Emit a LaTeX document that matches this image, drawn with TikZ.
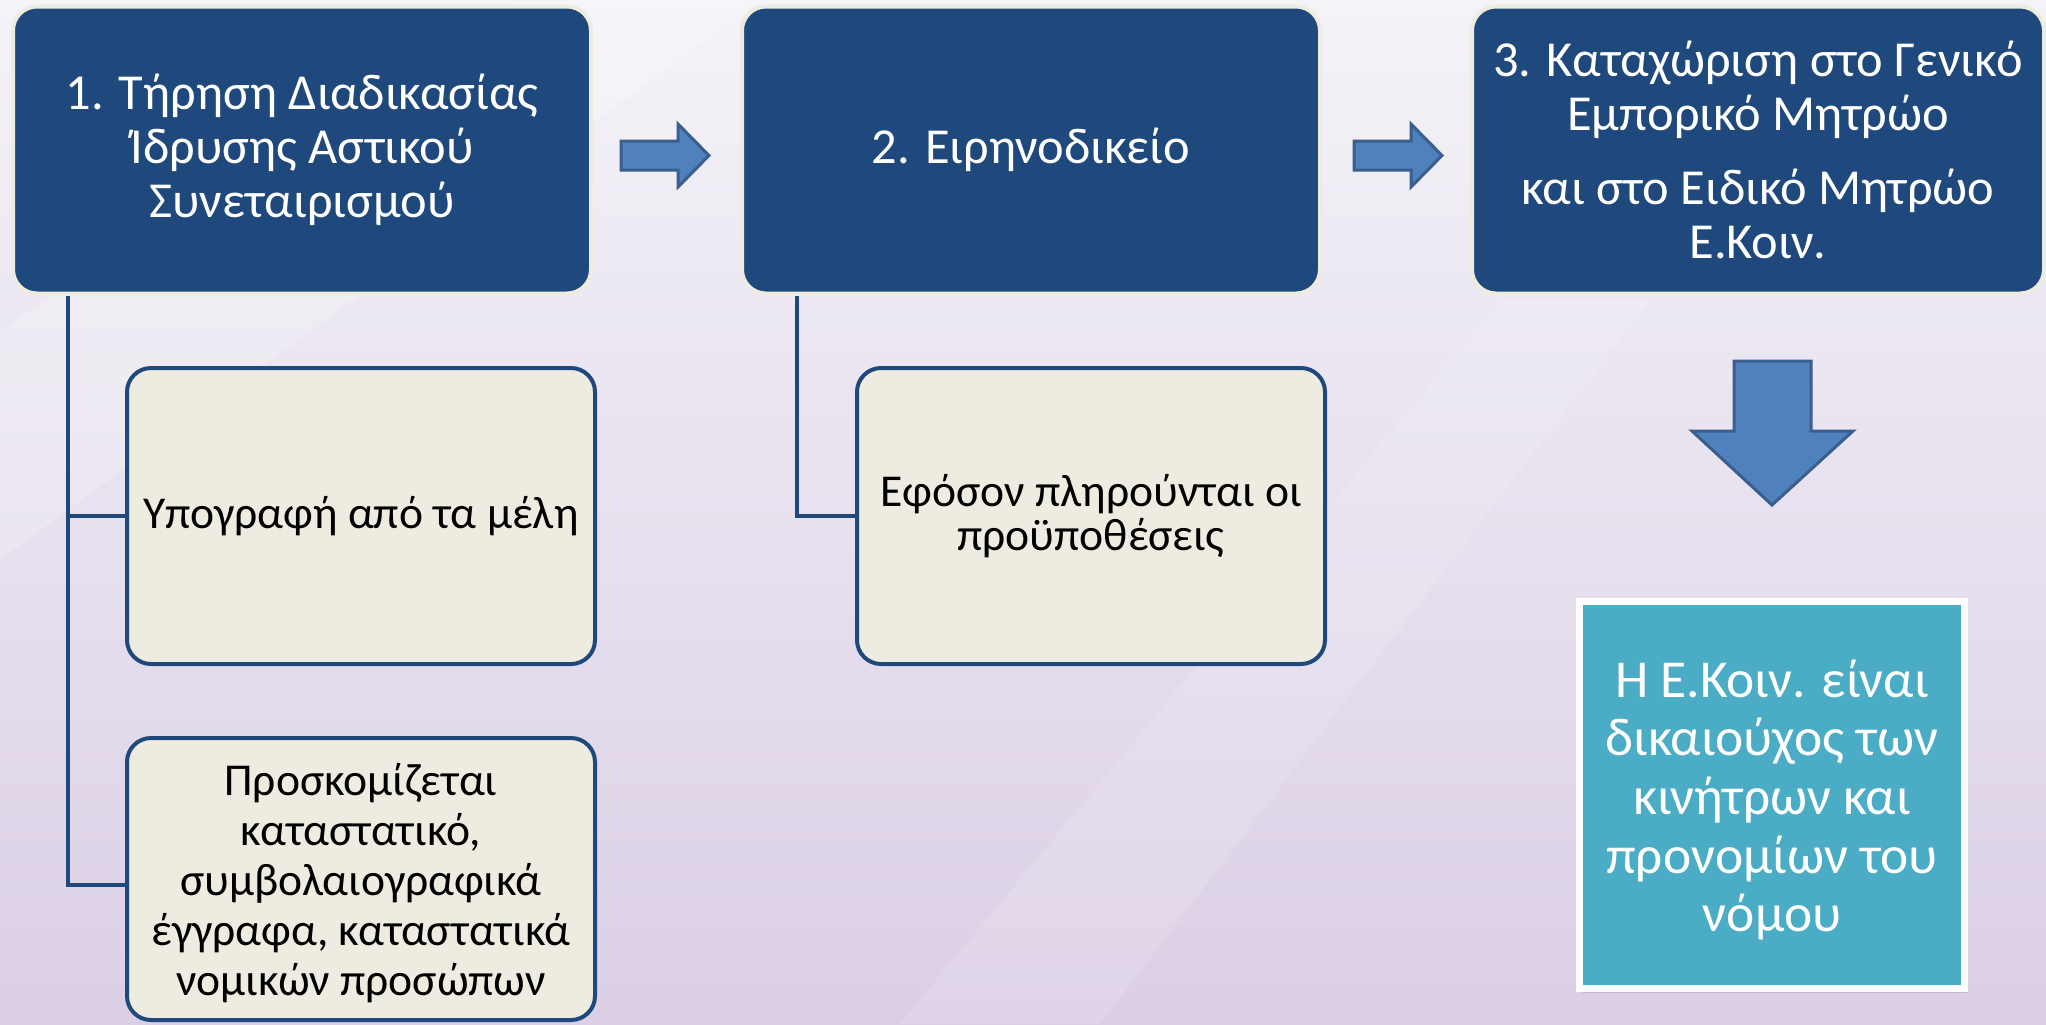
\documentclass[tikz,border=0pt]{standalone}
\usepackage{fontspec}
\setmainfont{Carlito}
\usetikzlibrary{shadows,calc}
\definecolor{navy}{HTML}{1F497D}
\definecolor{cream}{HTML}{EEECE1}
\definecolor{arrowfill}{HTML}{4F81BD}
\definecolor{arrowline}{HTML}{3A5F8E}
\definecolor{tealc}{HTML}{4BACC6}
\definecolor{bgtop}{HTML}{F4F3F8}
\definecolor{bgbot}{HTML}{DBCFE5}
\tikzset{
  mainbox/.style={draw=cream, line width=2pt, fill=navy, rounded corners=12pt,
    text=white, align=center, minimum width=289pt, minimum height=143.5pt,
    inner sep=0pt, font=\fontsize{25.2}{26.9}\selectfont},
  subbox/.style={draw=navy, line width=2pt, fill=cream, rounded corners=12pt,
    minimum width=234pt, inner sep=0pt},
  subtext/.style={text=black, align=center, inner sep=0pt, font=\fontsize{22.8}{25}\selectfont},
  tealbox/.style={fill=tealc, draw=white, line width=3.5pt, minimum width=192.5pt,
    minimum height=193.5pt, inner sep=0pt,
    drop shadow={opacity=0.25, shadow xshift=1pt, shadow yshift=-2pt}},
  tealtext/.style={text=white, align=center, inner sep=0pt,
    font=\fontsize{26.7}{29.3}\selectfont},
  conn/.style={draw=navy, line width=1.8pt},
  blockarrow/.style={fill=arrowfill, draw=arrowline, line width=1.5pt, line join=miter}
}
\begin{document}
\begin{tikzpicture}[x=0.5pt,y=-0.5pt]
\useasboundingbox (0,0) rectangle (2046,1024);
\shade[top color=bgtop, bottom color=bgbot] (0,0) rectangle (2046,1024);
\fill[white, opacity=0.2] (0,330) -- (520,0) -- (760,0) -- (0,560) -- cycle;
\fill[white, opacity=0.12] (900,1024) -- (1500,300) -- (1650,300) -- (1100,1024) -- cycle;

% main boxes
\node[mainbox] (b1) at (302,150) {1. Τήρηση Διαδικασίας\\Ίδρυσης Αστικού\\Συνεταιρισμού};
\node[mainbox] (b2) at (1031,150) {2. Ειρηνοδικείο};
\node[mainbox, minimum width=286pt] (b3) at (1758,150)
  {3. Καταχώριση στο Γενικό\\Εμπορικό Μητρώο\\[10.5pt]και στο Ειδικό Μητρώο\\Ε.Κοιν.};

% block arrows
\draw[blockarrow] (621,141) -- (678,141) -- (678,124) -- (709,155.5) -- (678,187) -- (678,170) -- (621,170) -- cycle;
\draw[blockarrow] (1354,141) -- (1411,141) -- (1411,124) -- (1442,155.5) -- (1411,187) -- (1411,170) -- (1354,170) -- cycle;
\draw[blockarrow] (1734,361) -- (1811,361) -- (1811,431) -- (1853,431) -- (1772,505) -- (1692,431) -- (1734,431) -- cycle;

% sub boxes
\node[subbox, minimum height=148pt] (s1a) at (361,516) {};
\node[subtext] (t1a) at (s1a) {Υπογραφή από τα μέλη};
\node[subbox, minimum height=141pt] (s1b) at (361,879) {};
\node[subtext] (t1b) at (361,883) {Προσκομίζεται\\καταστατικό,\\συμβολαιογραφικά\\έγγραφα, καταστατικά\\νομικών προσώπων};
\node[subbox, minimum height=148pt] (s2a) at (1091,516) {};
\node[subtext, font=\fontsize{22.8}{22}\selectfont] (t2a) at (s2a) {Εφόσον πληρούνται οι\\προϋποθέσεις};

% teal box
\node[tealbox] (tb) at (1772,795) {};
\node[tealtext] (tt) at (1772,800) {Η Ε.Κοιν. είναι\\δικαιούχος των\\κινήτρων και\\προνομίων του\\νόμου};

% connectors
\coordinate (c1) at (68,0);
\coordinate (c2) at (797,0);
\draw[conn] (b1.south -| c1) |- (s1a.west);
\draw[conn] (b1.south -| c1) |- ($(s1b.west)+(0,6)$);
\draw[conn] (b2.south -| c2) |- (s2a.west);
\end{tikzpicture}
\end{document}
